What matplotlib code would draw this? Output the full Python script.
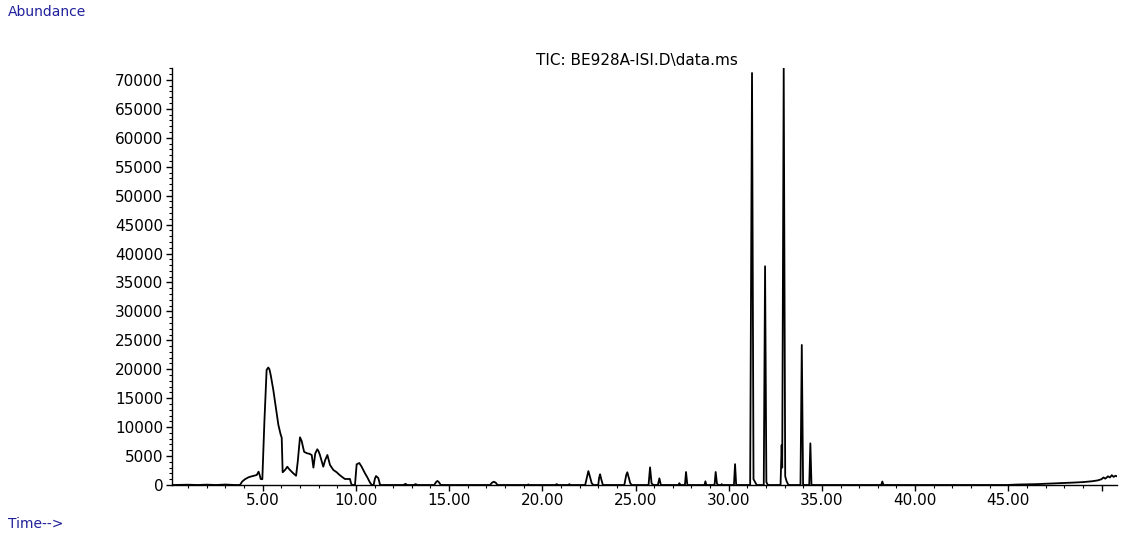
import matplotlib
matplotlib.use("Agg")
import matplotlib.pyplot as plt
from matplotlib.ticker import FixedLocator, MultipleLocator

# ---- data (time in min, abundance) ----
seg_start_t = [0.13, 1.0, 1.5, 2.0, 2.5, 3.0, 3.5, 3.75]
seg_start_a = [0, 50, 0, 60, 0, 80, 0, 0]

seg_early_t = [3.78, 3.9, 4.05, 4.25, 4.41, 4.6, 4.68, 4.78, 4.84, 4.89, 4.98,
               5.09, 5.21, 5.30, 5.36, 5.43, 5.57, 5.71, 5.84, 5.96, 6.02, 6.07,
               6.2, 6.32, 6.38, 6.46, 6.55, 6.64, 6.79, 6.88, 7.0, 7.09, 7.22,
               7.3, 7.39, 7.5, 7.63, 7.72, 7.82, 7.93, 8.0, 8.07, 8.25, 8.35,
               8.47, 8.61, 8.79, 8.97, 9.1, 9.24, 9.41, 9.68, 9.75, 9.8, 9.95,
               10.04, 10.18, 10.3, 10.49, 10.6, 10.76, 10.85, 10.95, 11.02,
               11.08, 11.2, 11.3]
seg_early_a = [0, 600, 1000, 1350, 1500, 1650, 1730, 2300, 1700, 1040, 1000,
               10900, 19900, 20300, 20000, 19000, 16400, 13250, 10400, 8760, 8170, 2200,
               2600, 3160, 2900, 2600, 2300, 2020, 1600, 4030, 8240, 7600, 5750,
               5600, 5470, 5400, 5180, 3000, 5470, 6170, 5800, 5180, 3160, 4300,
               5180, 3460, 2600, 2200, 1800, 1440, 1040, 1040, 200, 0, 0,
               3570, 3800, 3200, 2000, 1400, 400, 0, 0, 1100,
               1550, 1200, 0]

seg_mid_t = [12.55, 12.66, 12.75, 13.1, 13.2, 13.3, 14.2, 14.3, 14.37, 14.45,
             14.55, 17.2, 17.3, 17.4, 17.5, 17.6, 19.2, 19.25, 19.3, 20.7, 20.77,
             20.85, 21.4, 21.45, 21.5]
seg_mid_a = [0, 200, 0, 0, 150, 0, 0, 500, 700, 500,
             0, 0, 400, 570, 400, 0, 0, 100, 0, 0, 150,
             0, 0, 150, 0]

seg_late_t = [22.3, 22.4, 22.47, 22.55, 22.65, 22.75, 23.0, 23.05, 23.1, 23.17,
              23.25, 24.4, 24.5, 24.56, 24.62, 24.72, 24.8, 25.7, 25.78, 25.86,
              25.95, 26.2, 26.28, 26.36, 27.3, 27.35, 27.42, 27.65, 27.71, 27.78,
              28.7, 28.75, 28.8, 29.24, 29.3, 29.37, 29.45, 29.6, 29.62, 29.66,
              30.28, 30.34, 30.4]
seg_late_a = [0, 1400, 2400, 1500, 300, 0, 0, 1300, 1850, 900,
              0, 0, 1700, 2200, 1500, 300, 0, 0, 3050, 300,
              0, 0, 1150, 0, 0, 300, 0, 0, 2250, 0,
              0, 640, 0, 0, 2250, 200, 0, 0, 150, 0,
              0, 3600, 0]

seg_major_t = [31.15, 31.25, 31.33, 31.4, 31.5, 31.88, 31.95, 32.02, 32.1,
               32.78, 32.84, 32.87, 32.95, 33.03, 33.1, 33.2, 33.85, 33.92,
               33.99, 34.32, 34.38, 34.44]
seg_major_a = [0, 71200, 1000, 600, 0, 0, 37800, 500, 0,
               0, 6900, 3000, 72000, 1500, 700, 0, 0, 24200,
               0, 0, 7200, 0]

seg_end_t = [38.18, 38.24, 38.3, 44.9, 45.5, 46.5, 47.5, 48.5, 49.0, 49.5,
             49.8, 50.0, 50.1, 50.2, 50.35, 50.45, 50.55, 50.65, 50.75, 50.83]
seg_end_a = [0, 600, 0, 0, 80, 150, 280, 420, 500, 650,
             800, 1000, 1300, 1100, 1500, 1300, 1700, 1400, 1600, 1500]

time_min = seg_start_t + seg_early_t + seg_mid_t + seg_late_t + seg_major_t + seg_end_t
abundance = seg_start_a + seg_early_a + seg_mid_a + seg_late_a + seg_major_a + seg_end_a

x_ticks = [5, 10, 15, 20, 25, 30, 35, 40, 45, 50]
x_tick_labels = ["5.00", "10.00", "15.00", "20.00", "25.00", "30.00",
                 "35.00", "40.00", "45.00", ""]
y_ticks = list(range(0, 70001, 5000))
y_tick_labels = [str(v) for v in y_ticks]

title_text = "TIC: BE928A-ISI.D\\data.ms"
y_label_text = "Abundance"
x_label_text = "Time-->"

# ---- figure ----
W, H = 1123, 537
fig = plt.figure(figsize=(W / 100, H / 100), dpi=100)
ax_left, ax_right, ax_bottom, ax_top = 171.7, 1117, 485, 68
ax = fig.add_axes([ax_left / W, 1 - ax_bottom / H,
                   (ax_right - ax_left) / W, (ax_bottom - ax_top) / H])

ax.plot(time_min, abundance, color="black", lw=1.3, solid_joinstyle="round")

ax.set_xlim(0.118, 50.83)
ax.set_ylim(0, 72060)

for s in ("top", "right"):
    ax.spines[s].set_visible(False)
for s in ("left", "bottom"):
    ax.spines[s].set_linewidth(1.0)
    ax.spines[s].set_color("black")

ax.xaxis.set_major_locator(FixedLocator(x_ticks))
ax.set_xticklabels(x_tick_labels)
ax.xaxis.set_minor_locator(MultipleLocator(1))
ax.yaxis.set_major_locator(FixedLocator(y_ticks))
ax.set_yticklabels(y_tick_labels)
ax.yaxis.set_minor_locator(MultipleLocator(1000))

ax.tick_params(axis="both", which="major", direction="out", length=4,
               width=1.0, labelsize=11, color="black", labelcolor="black")
ax.tick_params(axis="both", which="minor", direction="out", length=2.2,
               width=0.8, color="black")
ax.tick_params(axis="x", which="major", pad=2)
ax.tick_params(axis="y", which="major", pad=2)
for lbl in ax.get_xticklabels() + ax.get_yticklabels():
    lbl.set_family("DejaVu Sans")

blue = "#20209c"
fig.text(8 / W, 1 - 12 / H, y_label_text, color=blue, fontsize=10,
         ha="left", va="center", family="DejaVu Sans")
fig.text(8 / W, 1 - 524 / H, x_label_text, color=blue, fontsize=10,
         ha="left", va="center", family="DejaVu Sans")
fig.text(637 / W, 1 - 60 / H, title_text, color="black", fontsize=11,
         ha="center", va="center", family="DejaVu Sans")

fig.savefig("out.png", dpi=100, facecolor="white")
